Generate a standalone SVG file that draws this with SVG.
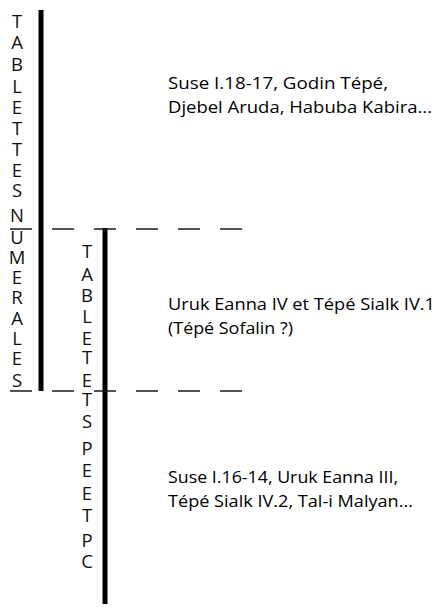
<svg xmlns="http://www.w3.org/2000/svg" width="438" height="607" viewBox="0 0 438 607">
<style>
.bar{stroke:#000;stroke-width:5;fill:none}
.dash{stroke:#1a1a1a;stroke-width:1.5;stroke-dasharray:22 20;fill:none}
.v{font-family:"Open Sans","Liberation Sans",sans-serif;font-size:18.5px;fill:#111;text-anchor:middle}
.t{font-family:"Open Sans","Liberation Sans",sans-serif;font-size:16.5px;fill:#000}
</style>
<rect width="438" height="607" fill="#fff"/>
<g id="connectors">
<line class="bar" x1="41" y1="10" x2="41" y2="391"/>
<line class="bar" x1="105" y1="228" x2="105" y2="604"/>
<line class="dash" x1="10" y1="229" x2="243" y2="229"/>
<line class="dash" x1="10" y1="391" x2="243" y2="391"/>
</g>
<g id="tablettes-numerales">
<text class="v" x="17 17 17 17 17 17 17 17 17 17 17 17 17 17 17 17 17 17" y="28 49 71 93 114 135 156 177 197 222 244 264 284 304 325 345 365 387">TABLETTESNUMERALES</text>
</g>
<g id="tablettes-peetpc">
<text class="v" x="87 87 87 87 87 87 87 87 87 87 87 87 87 87 87" y="258 281 302 323 345 364 387 406 428 455 477 500 522 547 568">TABLETETSPEETPC</text>
</g>
<g id="label-1">
<text class="t" x="168" y="89" textLength="220" lengthAdjust="spacingAndGlyphs">Suse I.18-17, Godin Tépé,</text>
<text class="t" x="168" y="113" textLength="264" lengthAdjust="spacingAndGlyphs">Djebel Aruda, Habuba Kabira...</text>
</g>
<g id="label-2">
<text class="t" x="168" y="309.5" textLength="267" lengthAdjust="spacingAndGlyphs">Uruk Eanna IV et Tépé Sialk IV.1</text>
<text class="t" x="168" y="333.5" textLength="125" lengthAdjust="spacingAndGlyphs">(Tépé Sofalin ?)</text>
</g>
<g id="label-3">
<text class="t" x="168" y="482.5" textLength="230" lengthAdjust="spacingAndGlyphs">Suse I.16-14, Uruk Eanna III,</text>
<text class="t" x="168" y="506.5" textLength="245" lengthAdjust="spacingAndGlyphs">Tépé Sialk IV.2, Tal-i Malyan...</text>
</g>
</svg>
